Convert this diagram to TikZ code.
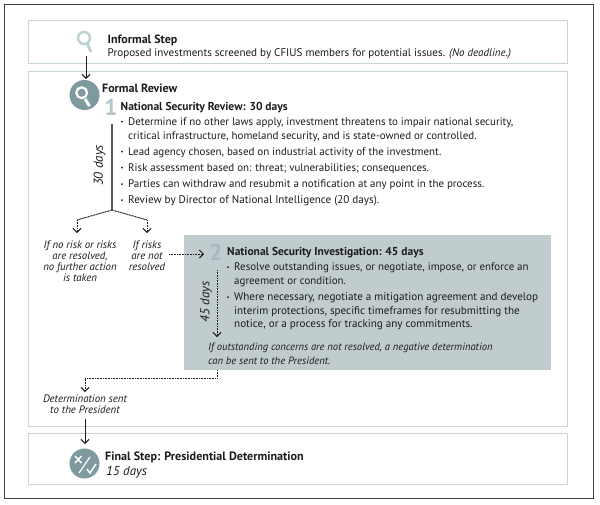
\documentclass[tikz,border=0pt]{standalone}
\usepackage{fontspec}
\setmainfont{PT Sans}
\usetikzlibrary{arrows.meta}
\definecolor{frameblue}{HTML}{C5D5D8}
\definecolor{panel}{HTML}{C1CCCF}
\definecolor{iconlight}{HTML}{BDD0D2}
\definecolor{icondark}{HTML}{7F9A9F}
\definecolor{numone}{HTML}{B4C6CA}
\definecolor{numtwo}{HTML}{A3BAC0}
\definecolor{ink}{HTML}{1C1C1C}
\tikzset{
  x=1pt,y=-1pt,
  outer/.style={draw=black!75,line width=0.9pt},
  stage/.style={draw=frameblue,line width=1pt},
  txt/.style={inner sep=0pt,anchor=base west,text=ink,font=\fontsize{11.1}{13.6}\selectfont},
  review/.style={txt,font=\fontsize{10.95}{13.6}\selectfont},
  head/.style={txt,font=\fontsize{11.5}{13.6}\selectfont\bfseries},
  bighead/.style={txt,font=\fontsize{12}{13.6}\selectfont\bfseries},
  note/.style={inner sep=0pt,align=center,text=ink,font=\fontsize{10.8}{11}\selectfont\itshape},
  solidarrow/.style={draw=ink,line width=1pt,-{Straight Barb[length=4pt,width=8pt]}},
  dotarrow/.style={draw=ink,line width=1pt,dash pattern=on 1pt off 0.6pt,-{Straight Barb[length=4pt,width=8pt,line cap=butt]}},
  dotline/.style={draw=ink,line width=1pt,dash pattern=on 1pt off 0.6pt},
  numeral/.style={inner sep=0pt,font=\fontsize{23}{23}\selectfont\bfseries},
  days/.style={inner sep=0pt,rotate=90,text=ink,font=\fontsize{13}{14}\selectfont\itshape},
  bulletdot/.style={circle,fill=ink,inner sep=0pt,minimum size=2pt},
}
\newcommand{\itemline}[3]{\node[txt] (#1) at #2 {#3};}
\newcommand{\reviewline}[3]{\node[review] (#1) at #2 {#3};}
\begin{document}
\begin{tikzpicture}
\useasboundingbox (0,0) rectangle (600,504);
\fill[white] (0,0) rectangle (600,504);
\draw[outer] (4.5,4.5) rectangle (593.5,498);
\draw[stage] (28.5,20.5) rectangle (567,63);
\draw[stage] (28.5,71.5) rectangle (567,426);
\draw[stage] (28.5,433.5) rectangle (567,484);
\fill[panel] (184,235) rectangle (551,370);

% icons
\coordinate (magA) at (84,38);
\draw[iconlight,line width=2.4pt] (magA) circle (6);
\draw[iconlight,line width=3pt] (87.5,44) -- (91,52);
\node[circle,fill=icondark,minimum size=30pt,inner sep=0pt] (magB) at (84.5,95) {};
\draw[white,line width=2.2pt] (81.7,92.7) circle (5.4);
\draw[white,line width=3pt] (85,99) -- (89.5,106);
\node[circle,fill=icondark,minimum size=30pt,inner sep=0pt] (finalicon) at (84.5,463.5) {};
\draw[white,line width=1.5pt] (75,456) -- (81.5,463) (81.5,456) -- (75,463);
\draw[white,line width=1.2pt] (79,473) -- (90,457);
\draw[white,line width=1.5pt] (87,469) -- (90,473) -- (96,464);

% texts
\node[bighead] (t1) at (107.5,43) {Informal Step};
\node[txt] (t2) at (107.5,56) {Proposed investments screened by CFIUS members for potential issues.\hspace{4pt}{\fontsize{11}{12}\selectfont\itshape (No deadline.)}};
\node[bighead] (t3) at (102,92) {Formal Review};
\node[numeral,text=numone] (n1) at (111,107.5) {1};
\node[head] (t4) at (120.5,110) {National Security Review: 30 days};
\foreach \nm/\yy in {a/121.5,b/151.7,c/167.5,d/184,e/200}{\node[bulletdot] (bu\nm) at (122,\yy) {};}
\reviewline{l1}{(128,125.5)}{Determine if no other laws apply, investment threatens to impair national security,}
\reviewline{l2}{(128,139)}{critical infrastructure, homeland security, and is state-owned or controlled.}
\reviewline{l3}{(128,155.5)}{Lead agency chosen, based on industrial activity of the investment.}
\reviewline{l4}{(128,171.5)}{Risk assessment based on: threat; vulnerabilities; consequences.}
\reviewline{l5}{(128,187.5)}{Parties can withdraw and resubmit a notification at any point in the process.}
\itemline{l6}{(128,203.5)}{Review by Director of National Intelligence (20 days).}

\coordinate (b30top) at (112,124);
\coordinate (b30bot) at (112,210);
\draw[draw=black!65,line width=1.3pt] (b30top) -- (b30bot);
\node[days] (d30) at (99.5,165.5) {30 days};
\coordinate (lb) at (77,220);
\coordinate (rb) at (147,220);
\draw[dotline] (b30bot) -- (lb);
\draw[dotline] (b30bot) -- (rb);
\node[note] (noa) at (80,261.5) {If no risk or risks\\are resolved,\\no further action\\is taken};
\node[note] (nob) at (147,256) {If risks\\are not\\resolved};
\coordinate (la) at (77,233);
\coordinate (ra) at (147,233);
\draw[dotarrow] (lb) -- (la);
\draw[dotarrow] (rb) -- (ra);
\coordinate (rs) at (169,254);
\coordinate (re) at (204,254);
\draw[dotarrow] (rs) -- (re);

\node[numeral,text=numtwo] (n2) at (216,252.5) {2};
\node[head] (t5) at (227,255) {National Security Investigation: 45 days};
\foreach \nm/\yy in {a/267,b/297}{\node[bulletdot] (bv\nm) at (228,\yy) {};}
\reviewline{m1}{(234,270.7)}{Resolve outstanding issues, or negotiate, impose, or enforce an}
\reviewline{m2}{(234,284.5)}{agreement or condition.}
\itemline{m3}{(234,300.5)}{Where necessary, negotiate a mitigation agreement and develop}
\itemline{m4}{(234,314)}{interim protections, specific timeframes for resubmitting the}
\itemline{m5}{(234,327.5)}{notice, or a process for tracking any commitments.}
\node[txt,font=\fontsize{10.6}{12}\selectfont\itshape] (m6) at (208,350) {If outstanding concerns are not resolved, a negative determination};
\node[txt,font=\fontsize{10.6}{12}\selectfont\itshape] (m7) at (208,364) {can be sent to the President.};
\coordinate (dt) at (217,270);
\coordinate (de) at (217,337);
\draw[dotarrow] (dt) -- (de);
\node[days] (d45) at (206,302) {45 days};

\coordinate (ps) at (217,370);
\coordinate (pm) at (217,378.5);
\coordinate (pl) at (85,378.5);
\coordinate (pe) at (85,392);
\draw[dotline] (ps) -- (pm) -- (pl);
\draw[dotarrow] (pl) -- (pe);
\node[note] (no3) at (85,404) {Determination sent\\to the President};

\draw[solidarrow] (86,56) -- (86,79);
\draw[solidarrow] (85,419) -- (85,444);
\node[txt,font=\fontsize{12.1}{14}\selectfont\bfseries] (t6) at (105,460) {Final Step: Presidential Determination};
\node[txt,font=\fontsize{13}{15}\selectfont\itshape] (t7) at (106,475) {15 days};
\end{tikzpicture}
\end{document}
